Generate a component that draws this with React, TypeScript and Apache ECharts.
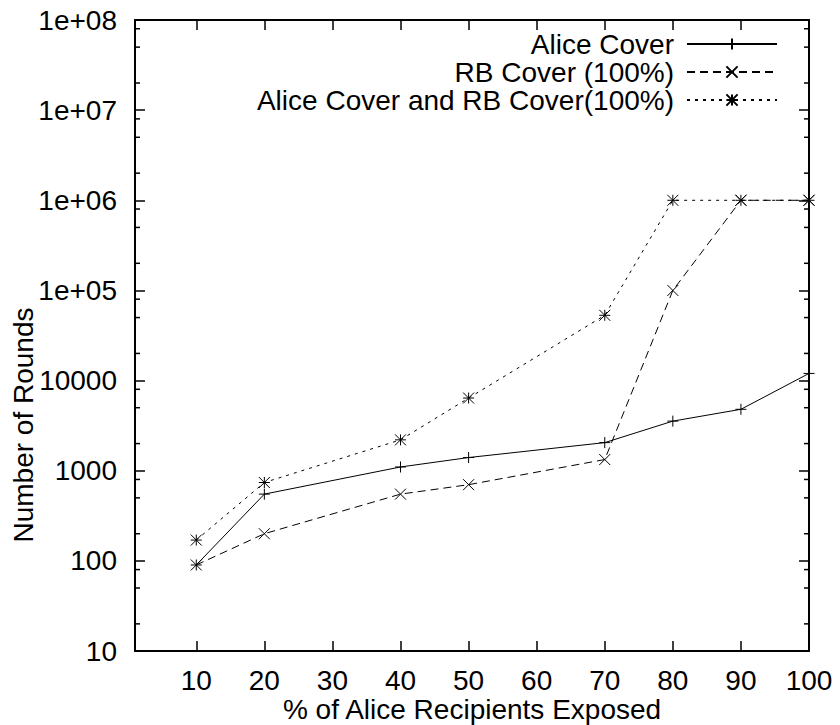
import React, { useEffect, useRef } from "react";
import * as echarts from "echarts";

const xValues = [10, 20, 40, 50, 70, 80, 90, 100];
const aliceCover = [90, 550, 1100, 1400, 2050, 3550, 4800, 12000];
const rbCover = [90, 200, 550, 700, 1330, 100000, 1000000, 1000000];
const combinedCover = [170, 740, 2200, 6400, 53000, 1000000, 1000000, 1000000];

const xTicks = [10, 20, 30, 40, 50, 60, 70, 80, 90, 100];
const yTickLabels = ["10", "100", "1000", "10000", "1e+05", "1e+06", "1e+07", "1e+08"];
const minorTickValues = [
  20, 50, 80, 200, 500, 800, 2000, 5000, 8000, 20000, 50000, 80000,
  200000, 500000, 800000, 2000000, 5000000, 8000000, 20000000, 50000000, 80000000,
];

const seriesNames = ["Alice Cover", "RB Cover (100%)", "Alice Cover and RB Cover(100%)"];

const FONT = "'Liberation Sans', Arial, Helvetica, sans-serif";
const X_MIN = 1;
const X_MAX = 100;

const plusPath = "path://M5,0L5,10M0,5L10,5";
const crossPath = "path://M0,0L10,10M10,0L0,10";
const starPath = "path://M5,0L5,10M0,5L10,5M0,0L10,10M10,0L0,10";

function pairs(vals: number[]) {
  return xValues.map((x, i) => [x, vals[i]]);
}

export default function App() {
  const ref = useRef<HTMLDivElement>(null);

  useEffect(() => {
    if (!ref.current) return;
    const chart = echarts.init(ref.current, undefined, { renderer: "svg" });

    const lineSeries = (name: string, data: number[], symbol: string, dash: any) => ({
      name,
      type: "line",
      data: pairs(data),
      symbol,
      symbolSize: 11,
      showSymbol: true,
      lineStyle: { color: "#000", width: 1, type: dash },
      itemStyle: { color: "none", borderColor: "#000", borderWidth: 1 },
      emphasis: { disabled: true },
      z: 3,
    });

    const option: any = {
      animation: false,
      backgroundColor: "#fff",
      textStyle: { fontFamily: FONT, color: "#000" },
      grid: { left: 135, top: 20, width: 674, height: 631, containLabel: false },
      legend: {
        data: seriesNames,
        orient: "vertical",
        align: "right",
        right: 62,
        top: 30,
        padding: 0,
        itemGap: 0,
        itemWidth: 90,
        itemHeight: 14,
        selectedMode: false,
        textStyle: { fontFamily: FONT, fontSize: 28, color: "#000", padding: [0, 8, 0, 0] },
      },
      xAxis: [
        {
          type: "value",
          position: "bottom",
          min: X_MIN,
          max: X_MAX,
          axisLine: { show: true, onZero: false, lineStyle: { color: "#000", width: 2 } },
          axisTick: { show: true, inside: true, length: 10, customValues: xTicks, lineStyle: { color: "#000", width: 1.5 } },
          axisLabel: { show: true, customValues: xTicks, fontSize: 28, color: "#000", fontFamily: FONT, margin: 15 },
          splitLine: { show: false },
        },
        {
          type: "value",
          position: "top",
          min: X_MIN,
          max: X_MAX,
          axisLine: { show: true, onZero: false, lineStyle: { color: "#000", width: 2 } },
          axisTick: { show: true, inside: true, length: 10, customValues: xTicks, lineStyle: { color: "#000", width: 1.5 } },
          axisLabel: { show: false },
          splitLine: { show: false },
        },
      ],
      yAxis: [
        {
          type: "log",
          logBase: 10,
          position: "left",
          min: 10,
          max: 100000000,
          axisLine: { show: true, onZero: false, lineStyle: { color: "#000", width: 2 } },
          axisTick: { show: true, inside: true, length: 10, lineStyle: { color: "#000", width: 1.5 } },
          axisLabel: {
            show: true,
            fontSize: 28,
            color: "#000",
            fontFamily: FONT,
            margin: 18,
            formatter: (v: number) => {
              const idx = Math.round(Math.log10(v)) - 1;
              return yTickLabels[idx] ?? "";
            },
          },
          splitLine: { show: false },
        },
        {
          type: "log",
          logBase: 10,
          position: "right",
          min: 10,
          max: 100000000,
          axisLine: { show: true, onZero: false, lineStyle: { color: "#000", width: 2 } },
          axisTick: { show: true, inside: true, length: 10, lineStyle: { color: "#000", width: 1.5 } },
          axisLabel: { show: false },
          splitLine: { show: false },
        },
      ],
      series: [
        lineSeries(seriesNames[0], aliceCover, plusPath, "solid"),
        lineSeries(seriesNames[1], rbCover, crossPath, [8, 5]),
        lineSeries(seriesNames[2], combinedCover, starPath, [3, 5]),
        {
          type: "custom",
          name: "minorTicks",
          xAxisIndex: 0,
          yAxisIndex: 0,
          silent: true,
          clip: false,
          data: minorTickValues.map((v) => [X_MIN, v]),
          encode: { x: 0, y: 1 },
          renderItem: (params: any, api: any) => {
            const v = api.value(1);
            const pl = api.coord([X_MIN, v]);
            const pr = api.coord([X_MAX, v]);
            return {
              type: "group",
              children: [
                {
                  type: "line",
                  shape: { x1: pl[0], y1: pl[1], x2: pl[0] + 5, y2: pl[1] },
                  style: { stroke: "#000", lineWidth: 1.5 },
                },
                {
                  type: "line",
                  shape: { x1: pr[0] - 5, y1: pr[1], x2: pr[0], y2: pr[1] },
                  style: { stroke: "#000", lineWidth: 1.5 },
                },
              ],
            };
          },
          z: 2,
        },
      ],
      graphic: [
        {
          type: "text",
          x: 472,
          y: 709,
          style: {
            text: "% of Alice Recipients Exposed",
            fontSize: 28,
            fontFamily: FONT,
            fill: "#000",
            textAlign: "center",
            textVerticalAlign: "middle",
          },
        },
        {
          type: "text",
          x: 23,
          y: 425,
          rotation: Math.PI / 2,
          style: {
            text: "Number of Rounds",
            fontSize: 28,
            fontFamily: FONT,
            fill: "#000",
            textAlign: "center",
            textVerticalAlign: "middle",
          },
        },
      ],
    };

    chart.setOption(option);
    return () => chart.dispose();
  }, []);

  return (
    <div
      ref={ref}
      style={{ position: "fixed", left: 0, top: 0, width: 840, height: 725, background: "#fff" }}
    />
  );
}
